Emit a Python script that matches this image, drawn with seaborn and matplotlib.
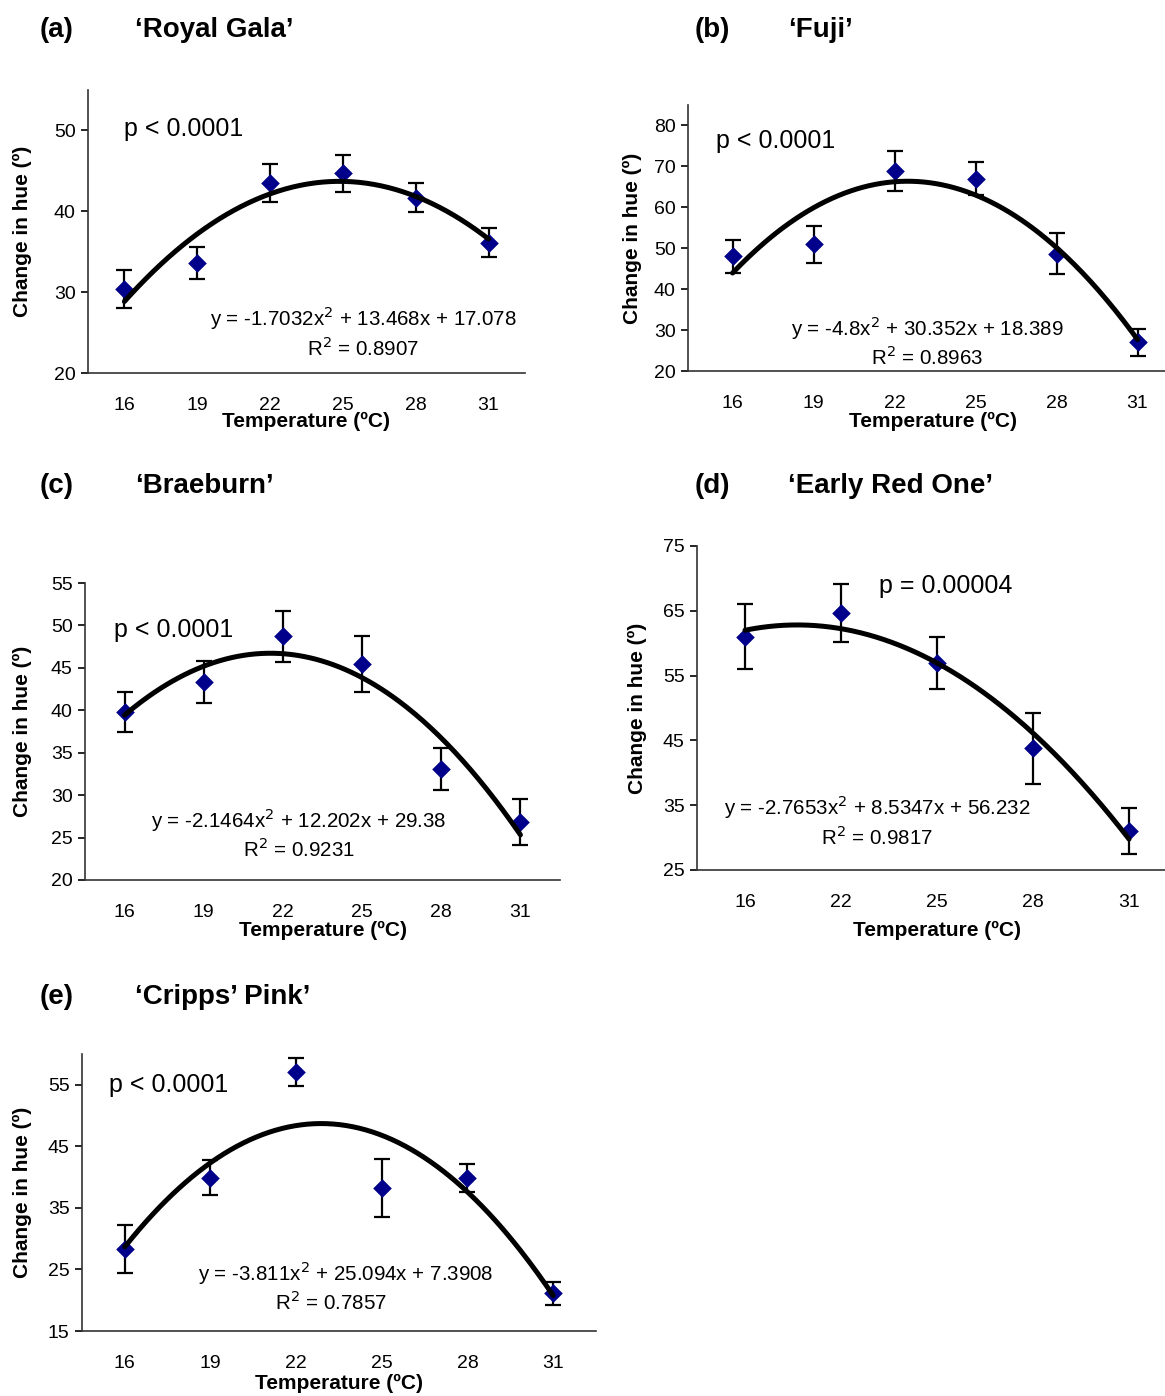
import numpy as np
import pandas as pd
import matplotlib
matplotlib.use("Agg")
import matplotlib.pyplot as plt
import seaborn as sns

sns.set_theme(style="ticks")
plt.rcParams['font.family'] = ['Liberation Sans', 'DejaVu Sans']
plt.rcParams['text.color'] = 'black'
plt.rcParams['axes.labelcolor'] = 'black'

# ---------------- data ----------------
temps_6 = ["16", "19", "22", "25", "28", "31"]
temps_5 = ["16", "22", "25", "28", "31"]

gala_mean = [30.4, 33.6, 43.5, 44.7, 41.7, 36.1]
gala_err = [2.4, 2.0, 2.4, 2.3, 1.8, 1.8]
gala_coef = [-1.7032, 13.468, 17.078]

fuji_mean = [48.0, 51.0, 68.9, 67.0, 48.7, 27.0]
fuji_err = [4.1, 4.5, 4.8, 4.0, 4.9, 3.3]
fuji_coef = [-4.8, 30.352, 18.389]

brae_mean = [39.8, 43.3, 48.7, 45.5, 33.1, 26.8]
brae_err = [2.4, 2.5, 3.0, 3.3, 2.5, 2.7]
brae_coef = [-2.1464, 12.202, 29.38]

ero_mean = [61.0, 64.7, 57.0, 43.8, 31.0]
ero_err = [5.0, 4.5, 4.0, 5.5, 3.6]
ero_coef = [-2.7653, 8.5347, 56.232]

cripps_mean = [28.4, 39.9, 57.1, 38.3, 39.9, 21.1]
cripps_err = [3.9, 2.8, 2.3, 4.7, 2.3, 1.8]
cripps_coef = [-3.811, 25.094, 7.3908]

W, H = 1165, 1396
fig = plt.figure(figsize=(W / 100, H / 100), dpi=100)


def px_axes(left, right, top, bottom):
    return fig.add_axes([left / W, 1 - bottom / H, (right - left) / W, (bottom - top) / H])


panels = [
    dict(box=(88, 525, 90, 373), cats=temps_6, mean=gala_mean, err=gala_err, coef=gala_coef,
         xlim=(0.5, 6.5), ylim=(20, 55), yticks=[20, 30, 40, 50],
         p="p < 0.0001", ppos=(0.99, 50.2), eq="y = -1.7032x$^2$ + 13.468x + 17.078",
         eqpos=(4.28, 26.8), r2="R$^2$ = 0.8907", r2pos=(4.28, 23.1),
         xlab_off=48, ylab_x=22,
         lab="(a)", name="\u2018Royal Gala\u2019", labxy=(40, 30), namexy=(135, 30)),
    dict(box=(688, 1178, 105, 371), cats=temps_6, mean=fuji_mean, err=fuji_err, coef=fuji_coef,
         xlim=(0.45, 6.5), ylim=(20, 85), yticks=[20, 30, 40, 50, 60, 70, 80],
         p="p < 0.0001", ppos=(0.79, 76.1), eq="y = -4.8x$^2$ + 30.352x + 18.389",
         eqpos=(3.4, 30.5), r2="R$^2$ = 0.8963", r2pos=(3.4, 23.4),
         xlab_off=50, ylab_x=632,
         lab="(b)", name="\u2018Fuji\u2019", labxy=(695, 30), namexy=(788, 30)),
    dict(box=(85, 560, 583, 880), cats=temps_6, mean=brae_mean, err=brae_err, coef=brae_coef,
         xlim=(0.5, 6.5), ylim=(20, 55), yticks=[20, 25, 30, 35, 40, 45, 50, 55],
         p="p < 0.0001", ppos=(0.86, 49.5), eq="y = -2.1464x$^2$ + 12.202x + 29.38",
         eqpos=(3.2, 27.1), r2="R$^2$ = 0.9231", r2pos=(3.2, 23.6),
         xlab_off=50, ylab_x=22,
         lab="(c)", name="\u2018Braeburn\u2019", labxy=(40, 486), namexy=(135, 486)),
    dict(box=(697, 1177, 546, 870), cats=temps_5, mean=ero_mean, err=ero_err, coef=ero_coef,
         xlim=(0.5, 5.5), ylim=(25, 75), yticks=[25, 35, 45, 55, 65, 75],
         p="p = 0.00004", ppos=(2.4, 68.8), eq="y = -2.7653x$^2$ + 8.5347x + 56.232",
         eqpos=(2.375, 34.7), r2="R$^2$ = 0.9817", r2pos=(2.375, 30.1),
         xlab_off=60, ylab_x=637,
         lab="(d)", name="\u2018Early Red One\u2019", labxy=(695, 486), namexy=(788, 486)),
    dict(box=(82, 596, 1054, 1331), cats=temps_6, mean=cripps_mean, err=cripps_err, coef=cripps_coef,
         xlim=(0.5, 6.5), ylim=(15, 60), yticks=[15, 25, 35, 45, 55],
         p="p < 0.0001", ppos=(0.82, 55.0), eq="y = -3.811x$^2$ + 25.094x + 7.3908",
         eqpos=(3.58, 24.4), r2="R$^2$ = 0.7857", r2pos=(3.4, 19.6),
         xlab_off=52, ylab_x=22,
         lab="(e)", name="\u2018Cripps\u2019 Pink\u2019", labxy=(40, 997), namexy=(135, 997)),
]

navy = "#00008B"

for P in panels:
    left, right, top, bottom = P["box"]
    ax = px_axes(left, right, top, bottom)
    n = len(P["cats"])
    pos = np.arange(1, n + 1)
    df = pd.DataFrame({"x": pos, "y": P["mean"], "err": P["err"]})

    ax.errorbar(df["x"], df["y"], yerr=df["err"], fmt="none", ecolor="black",
                elinewidth=1.6, capsize=5.5, capthick=1.6, zorder=2)
    sns.scatterplot(data=df, x="x", y="y", marker="D", s=90, color=navy,
                    edgecolor=navy, linewidth=0, ax=ax, zorder=3)
    a, b, c = P["coef"]
    xs = np.linspace(1, n, 200)
    curve = pd.DataFrame({"x": xs, "y": a * xs ** 2 + b * xs + c})
    sns.lineplot(data=curve, x="x", y="y", color="black", linewidth=3.6, ax=ax, zorder=4)

    ax.set_xlim(*P["xlim"])
    ax.set_ylim(*P["ylim"])
    ax.set_xticks(pos)
    ax.set_xticklabels(P["cats"])
    ax.set_yticks(P["yticks"])
    sns.despine(ax=ax)
    for s in ["left", "bottom"]:
        ax.spines[s].set_color("#333333")
        ax.spines[s].set_linewidth(1.2)
    ax.tick_params(axis="x", length=0, pad=17, labelsize=14, colors="black")
    ax.tick_params(axis="y", length=5, width=1.2, pad=4, labelsize=14, colors="black")

    ax.set_xlabel("Temperature (\u00baC)", fontsize=15, fontweight="bold", color="black")
    ax.set_ylabel("Change in hue (\u00ba)", fontsize=15, fontweight="bold", color="black")
    wpx = right - left
    hpx = bottom - top
    ax.xaxis.label.set_va("center")
    ax.xaxis.set_label_coords(0.5, -P["xlab_off"] / hpx)
    ax.yaxis.label.set_va("center")
    ax.yaxis.set_label_coords((P["ylab_x"] - left) / wpx, 0.5)

    ax.text(*P["ppos"], P["p"], fontsize=18, ha="left", va="center", color="black")
    ax.text(*P["eqpos"], P["eq"], fontsize=14.8, ha="center", va="center", color="black")
    ax.text(*P["r2pos"], P["r2"], fontsize=14.8, ha="center", va="center", color="black")

    fig.text(P["labxy"][0] / W, 1 - P["labxy"][1] / H, P["lab"], fontsize=20,
             fontweight="bold", ha="left", va="center", color="black")
    fig.text(P["namexy"][0] / W, 1 - P["namexy"][1] / H, P["name"], fontsize=20,
             fontweight="bold", ha="left", va="center", color="black")

fig.savefig("out.png", dpi=100, facecolor="white")
